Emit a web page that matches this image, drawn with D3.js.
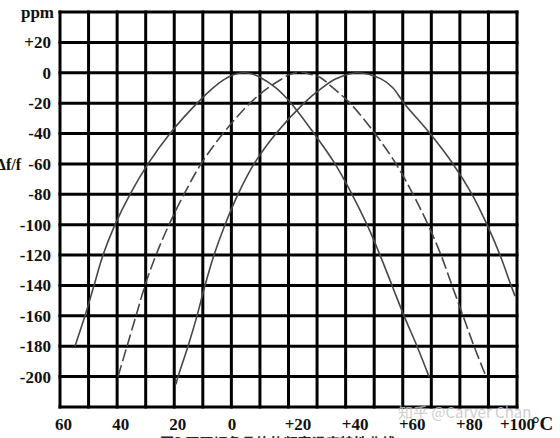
<!DOCTYPE html>
<html>
<head>
<meta charset="utf-8">
<script src="https://cdn.jsdelivr.net/npm/d3@7"></script>
<style>
  html, body { margin: 0; padding: 0; background: #fff; }
  svg { display: block; }
</style>
</head>
<body>
<svg id="chart" width="560" height="438"></svg>
<script>
// ---- data ----
const xTickValues = [-60, -40, -20, 0, 20, 40, 60, 80, 100];
const xTickLabels = ["60", "40", "20", "0", "+20", "+40", "+60", "+80", "+100"];
const yTickValues = [40, 20, 0, -20, -40, -60, -80, -100, -120, -140, -160, -180, -200];
const yTickLabels = ["ppm", "+20", "0", "-20", "-40", "-60", "-80", "-100", "-120", "-140", "-160", "-180", "-200"];

// curve A (solid, turnover near +4 °C)
const curveA_T = [-54.75, -51.25, -48.1, -44.94, -40.74, -35.49, -29.19, -21.5, -12.0, -6.4, -2.6, 1, 4, 7, 10, 15.6, 20.88, 28.94, 36.29, 42.24, 47.49, 52.04, 56.25, 60.45, 65.0, 69.2];
const curveA_V = [-180, -160, -140, -120, -100, -80, -60, -40, -20, -10, -4.5, -1.2, 0, -0.7, -3, -10, -20, -40, -60, -80, -100, -120, -140, -160, -180, -200];
// curve B (dashed, turnover near +24 °C)
const curveB_T = [-39.69, -36.54, -33.39, -30.24, -26.39, -21.83, -16.58, -10.63, -2.93, 6.53, 12.83, 17.73, 20, 24.5, 28, 31, 35.6, 41.54, 50.29, 57.65, 63.6, 68.85, 73.4, 77.25, 81.1, 84.96, 89.16];
const curveB_V = [-200, -180, -160, -140, -120, -100, -80, -60, -40, -20, -10, -4, -1.5, 0.5, -1.2, -3, -10, -20, -40, -60, -80, -100, -120, -140, -160, -180, -200];
// curve C (solid, turnover near +44 °C)
const curveC_T = [-19.4, -18.68, -15.18, -12.03, -9.23, -6.08, -2.23, 2.32, 7.93, 15.63, 25.43, 31.74, 36.64, 44, 52.4, 56.6, 60.45, 69.55, 77.6, 84.26, 89.5, 94.06, 97.9, 99.3];
const curveC_V = [-205, -200, -180, -160, -140, -120, -100, -80, -60, -40, -20, -10, -4, 0, -4, -10, -20, -40, -60, -80, -100, -120, -140, -147];

// ---- layout ----
const svg = d3.select("#chart");
const pLeft = 60, pRight = 517, pTop = 12, pBottom = 407;
const x = d3.scaleLinear().domain([-60, 100]).range([pLeft, pRight]);
const y = d3.scaleLinear().domain([-220, 40]).range([pBottom, pTop]);

const serif = "'Liberation Serif', 'Times New Roman', serif";

// grid
const grid = svg.append("g");
grid.selectAll("line.v").data(d3.range(-60, 101, 10)).join("line").attr("class", "v")
  .attr("x1", d => x(d)).attr("x2", d => x(d))
  .attr("y1", pTop).attr("y2", pBottom)
  .attr("stroke", "#000").attr("stroke-width", 3).attr("stroke-linecap", "square");
grid.selectAll("line.h").data(d3.range(-220, 41, 20)).join("line").attr("class", "h")
  .attr("y1", d => y(d)).attr("y2", d => y(d))
  .attr("x1", pLeft).attr("x2", pRight)
  .attr("stroke", "#000").attr("stroke-width", 3).attr("stroke-linecap", "square");

// curves
const line = d3.line().x(d => x(d[0])).y(d => y(d[1])).curve(d3.curveCatmullRom.alpha(0.5));
const curves = [
  { T: curveA_T, V: curveA_V, dash: null },
  { T: curveB_T, V: curveB_V, dash: "12,4" },
  { T: curveC_T, V: curveC_V, dash: null }
];
curves.forEach(c => {
  svg.append("path")
    .datum(c.T.map((t, i) => [t, c.V[i]]))
    .attr("d", line)
    .attr("fill", "none")
    .attr("stroke", "#474747")
    .attr("stroke-width", 1.6)
    .attr("stroke-dasharray", c.dash);
});

// y axis labels
const yAxis = d3.axisLeft(y).tickValues(yTickValues)
  .tickFormat((d, i) => yTickLabels[i]).tickSize(0).tickPadding(9);
const gy = svg.append("g").attr("transform", `translate(${pLeft},0)`).call(yAxis);
gy.select(".domain").remove();
gy.selectAll("text")
  .attr("font-family", serif).attr("font-size", 17).attr("font-weight", "bold")
  .attr("fill", "#111")
  .attr("dx", (d) => d === 40 ? 3 : 0);

// x axis labels
const xAxis = d3.axisBottom(x).tickValues(xTickValues)
  .tickFormat((d, i) => xTickLabels[i]).tickSize(0);
const gx = svg.append("g").attr("transform", `translate(0,${pBottom})`).call(xAxis);
gx.select(".domain").remove();
gx.selectAll("text")
  .attr("font-family", serif).attr("font-size", 17).attr("font-weight", "bold")
  .attr("fill", "#111")
  .attr("y", 23).attr("dy", 0)
  .attr("dx", d => d < 0 ? 3 : (d > 0 && d < 100 ? 9 : 0));

// unit °C
svg.append("text").attr("x", 532).attr("y", 430)
  .attr("font-family", serif).attr("font-size", 19).attr("font-weight", "bold")
  .attr("fill", "#111").text("°C");

// Δf/f label (partly cropped at the left edge, as in the reference)
svg.append("text").attr("x", 21).attr("y", y(-60)).attr("dy", "0.35em")
  .attr("text-anchor", "end")
  .attr("font-family", serif).attr("font-size", 16).attr("font-weight", "bold")
  .attr("fill", "#111").text("Δf/f");

// watermark
svg.append("text").attr("x", 398).attr("y", 418)
  .attr("font-family", "'Noto Sans CJK SC', 'Noto Sans', sans-serif").attr("font-size", 15)
  .attr("fill", "#c4c4c4").attr("fill-opacity", 0.85).text("知乎 @Carver Chan");

// caption (cropped at the bottom edge, as in the reference)
svg.append("text").attr("x", 160).attr("y", 448)
  .attr("font-family", "'Noto Sans CJK SC', sans-serif").attr("font-size", 14).attr("font-weight", "bold")
  .attr("fill", "#222").text("图3 不同切角晶体的频率温度特性曲线");
</script>
</body>
</html>
